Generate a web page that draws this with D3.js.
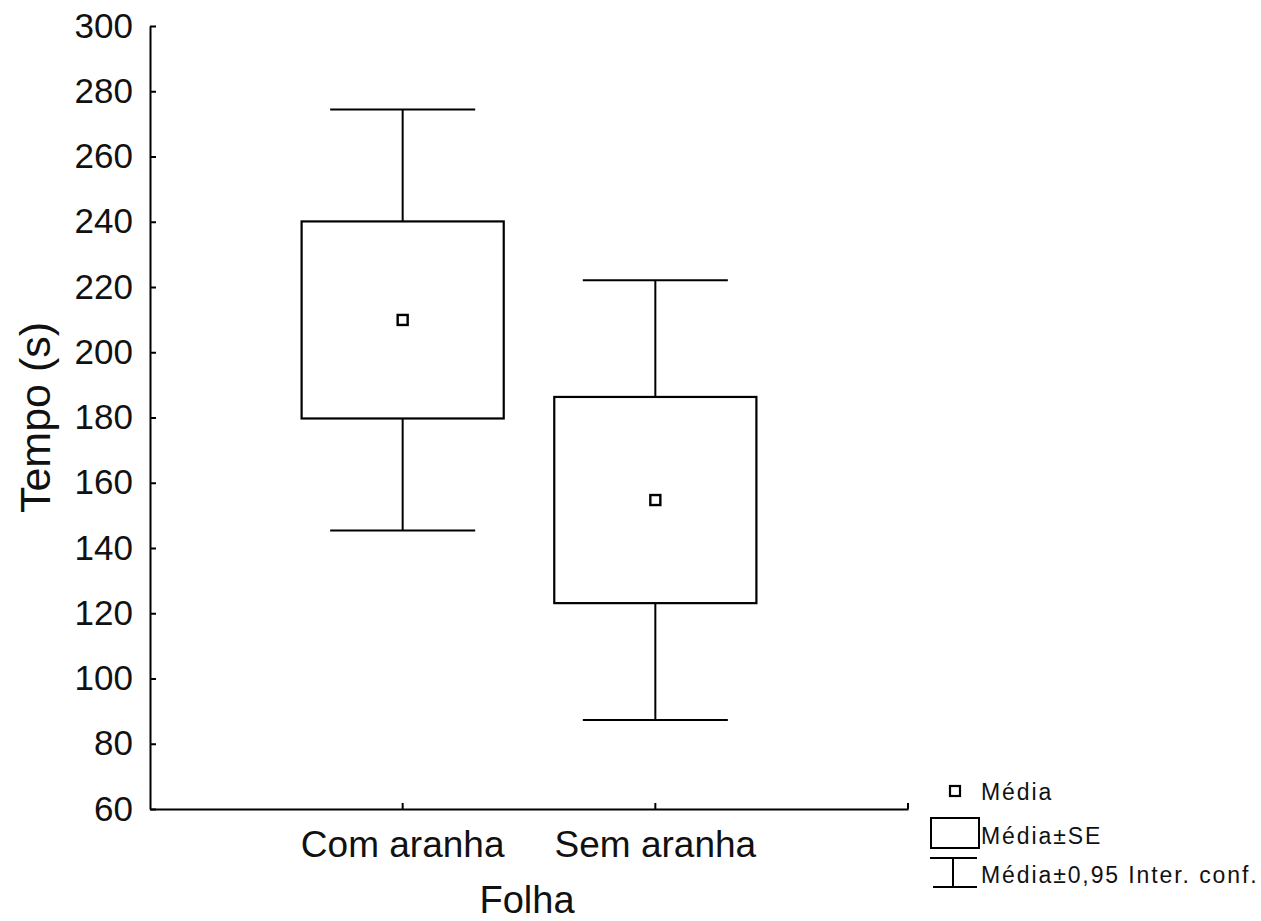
<!DOCTYPE html>
<html>
<head>
<meta charset="utf-8">
<script src="https://cdn.jsdelivr.net/npm/d3@7"></script>
<style>
    body { margin: 0; background: #fff; }
    svg { display: block; font-family: Arial, "Liberation Sans", sans-serif; }
    .axis path, .axis line { stroke: #000; stroke-width: 2; }
    .axis text { fill: #111; }
</style>
</head>
<body>
<div class="chart-container"></div>
<script>
// Data.
const categories = ['Com aranha', 'Sem aranha'];
const means = [209.9, 154.7];
const stdErrors = [30.2, 31.6];
const confIntervals = [64.5, 67.4];
const yTicks = [60, 80, 100, 120, 140, 160, 180, 200, 220, 240, 260, 280, 300];
const legendLabels = ['Média', 'Média±SE', 'Média±0,95 Inter. conf.'];

const svg = d3
    .select('.chart-container')
    .append('svg')
    .attr('width', 1261)
    .attr('height', 921);

const area = {
    margin: {top: 26, left: 150},
    width: 758,
    height: 783
};

const rows = categories.map((c, i) => ({
    name: c,
    mean: means[i],
    se: stdErrors[i],
    ci: confIntervals[i]
}));

//Scales
const xScale = d3.scaleBand()
    .domain(categories)
    .range([0, area.width])
    .paddingInner(0)
    .paddingOuter(0.5);

const yScale = d3.scaleLinear()
    .domain([60, 300])
    .range([area.height, 0]);

const plot = svg
    .append('g')
    .attr('transform', `translate(${area.margin.left}, ${area.margin.top})`);

drawAxes();
drawBoxes();
drawLegend();

function drawAxes() {
    const axisY = d3.axisLeft(yScale)
        .tickValues(yTicks)
        .tickSizeInner(-6)
        .tickSizeOuter(0)
        .tickPadding(17);

    plot.append('g')
        .attr('class', 'axis')
        .call(axisY)
        .call(g => g.selectAll('text').style('font-size', '35px'));

    const axisX = d3.axisBottom(xScale)
        .tickSizeInner(-6)
        .tickSizeOuter(0)
        .tickPadding(22);

    plot.append('g')
        .attr('class', 'axis')
        .attr('transform', `translate(0, ${area.height})`)
        .call(axisX)
        .call(g => g.selectAll('text').style('font-size', '37px'));

    // small tick at right end of x axis
    plot.append('line')
        .attr('x1', area.width).attr('x2', area.width)
        .attr('y1', area.height).attr('y2', area.height - 6)
        .attr('stroke', '#000').attr('stroke-width', 2);

    svg.append('text')
        .attr('x', area.margin.left + area.width / 2 - 2)
        .attr('y', 913)
        .attr('text-anchor', 'middle')
        .style('font-size', '38px')
        .style('fill', '#111')
        .text('Folha');

    svg.append('text')
        .attr('transform', `translate(50, ${area.margin.top + area.height / 2}) rotate(-90)`)
        .attr('text-anchor', 'middle')
        .style('font-size', '43px')
        .style('fill', '#111')
        .text('Tempo (s)');
}

function drawBoxes() {
    const bw = xScale.bandwidth();
    const boxW = bw * 0.8;
    const capW = bw * 0.574;
    const groups = plot.selectAll('.stat')
        .data(rows)
        .enter()
        .append('g')
        .attr('class', 'stat')
        .attr('transform', d => `translate(${xScale(d.name) + bw / 2}, 0)`);

    // whisker stems
    groups.append('line')
        .attr('x1', 0).attr('x2', 0)
        .attr('y1', d => yScale(d.mean + d.ci))
        .attr('y2', d => yScale(d.mean - d.ci))
        .attr('stroke', '#000').attr('stroke-width', 2);

    // caps
    [1, -1].forEach(s => {
        groups.append('line')
            .attr('x1', -capW / 2).attr('x2', capW / 2)
            .attr('y1', d => yScale(d.mean + s * d.ci))
            .attr('y2', d => yScale(d.mean + s * d.ci))
            .attr('stroke', '#000').attr('stroke-width', 2);
    });

    groups.append('rect')
        .attr('x', -boxW / 2)
        .attr('width', boxW)
        .attr('y', d => yScale(d.mean + d.se))
        .attr('height', d => yScale(d.mean - d.se) - yScale(d.mean + d.se))
        .attr('fill', '#fff')
        .attr('stroke', '#000').attr('stroke-width', 2.2);

    groups.append('rect')
        .attr('x', -5)
        .attr('y', d => yScale(d.mean) - 5)
        .attr('width', 10)
        .attr('height', 10)
        .attr('fill', '#fff')
        .attr('stroke', '#000').attr('stroke-width', 2.4);
}

function drawLegend() {
    const lg = svg.append('g').attr('class', 'legend');
    const line = (x1, y1, x2, y2) => lg.append('line')
        .attr('x1', x1).attr('y1', y1).attr('x2', x2).attr('y2', y2)
        .attr('stroke', '#000').attr('stroke-width', 2);

    lg.append('rect')
        .attr('x', 950).attr('y', 786).attr('width', 10).attr('height', 10)
        .attr('fill', '#fff').attr('stroke', '#000').attr('stroke-width', 2.2);

    lg.append('rect')
        .attr('x', 931).attr('y', 818).attr('width', 48).attr('height', 30)
        .attr('fill', '#fff').attr('stroke', '#000').attr('stroke-width', 2);

    line(930, 858, 977, 858);
    line(953, 858, 953, 887);
    line(933, 887, 977, 887);

    const baselines = [800, 844, 883];
    lg.selectAll('.legend-text')
        .data(legendLabels)
        .enter()
        .append('text')
        .attr('class', 'legend-text')
        .attr('x', 981)
        .attr('y', (d, i) => baselines[i])
        .style('font-size', '23px')
        .style('letter-spacing', '1.9px')
        .style('fill', '#111')
        .text(d => d);
}
</script>
</body>
</html>
